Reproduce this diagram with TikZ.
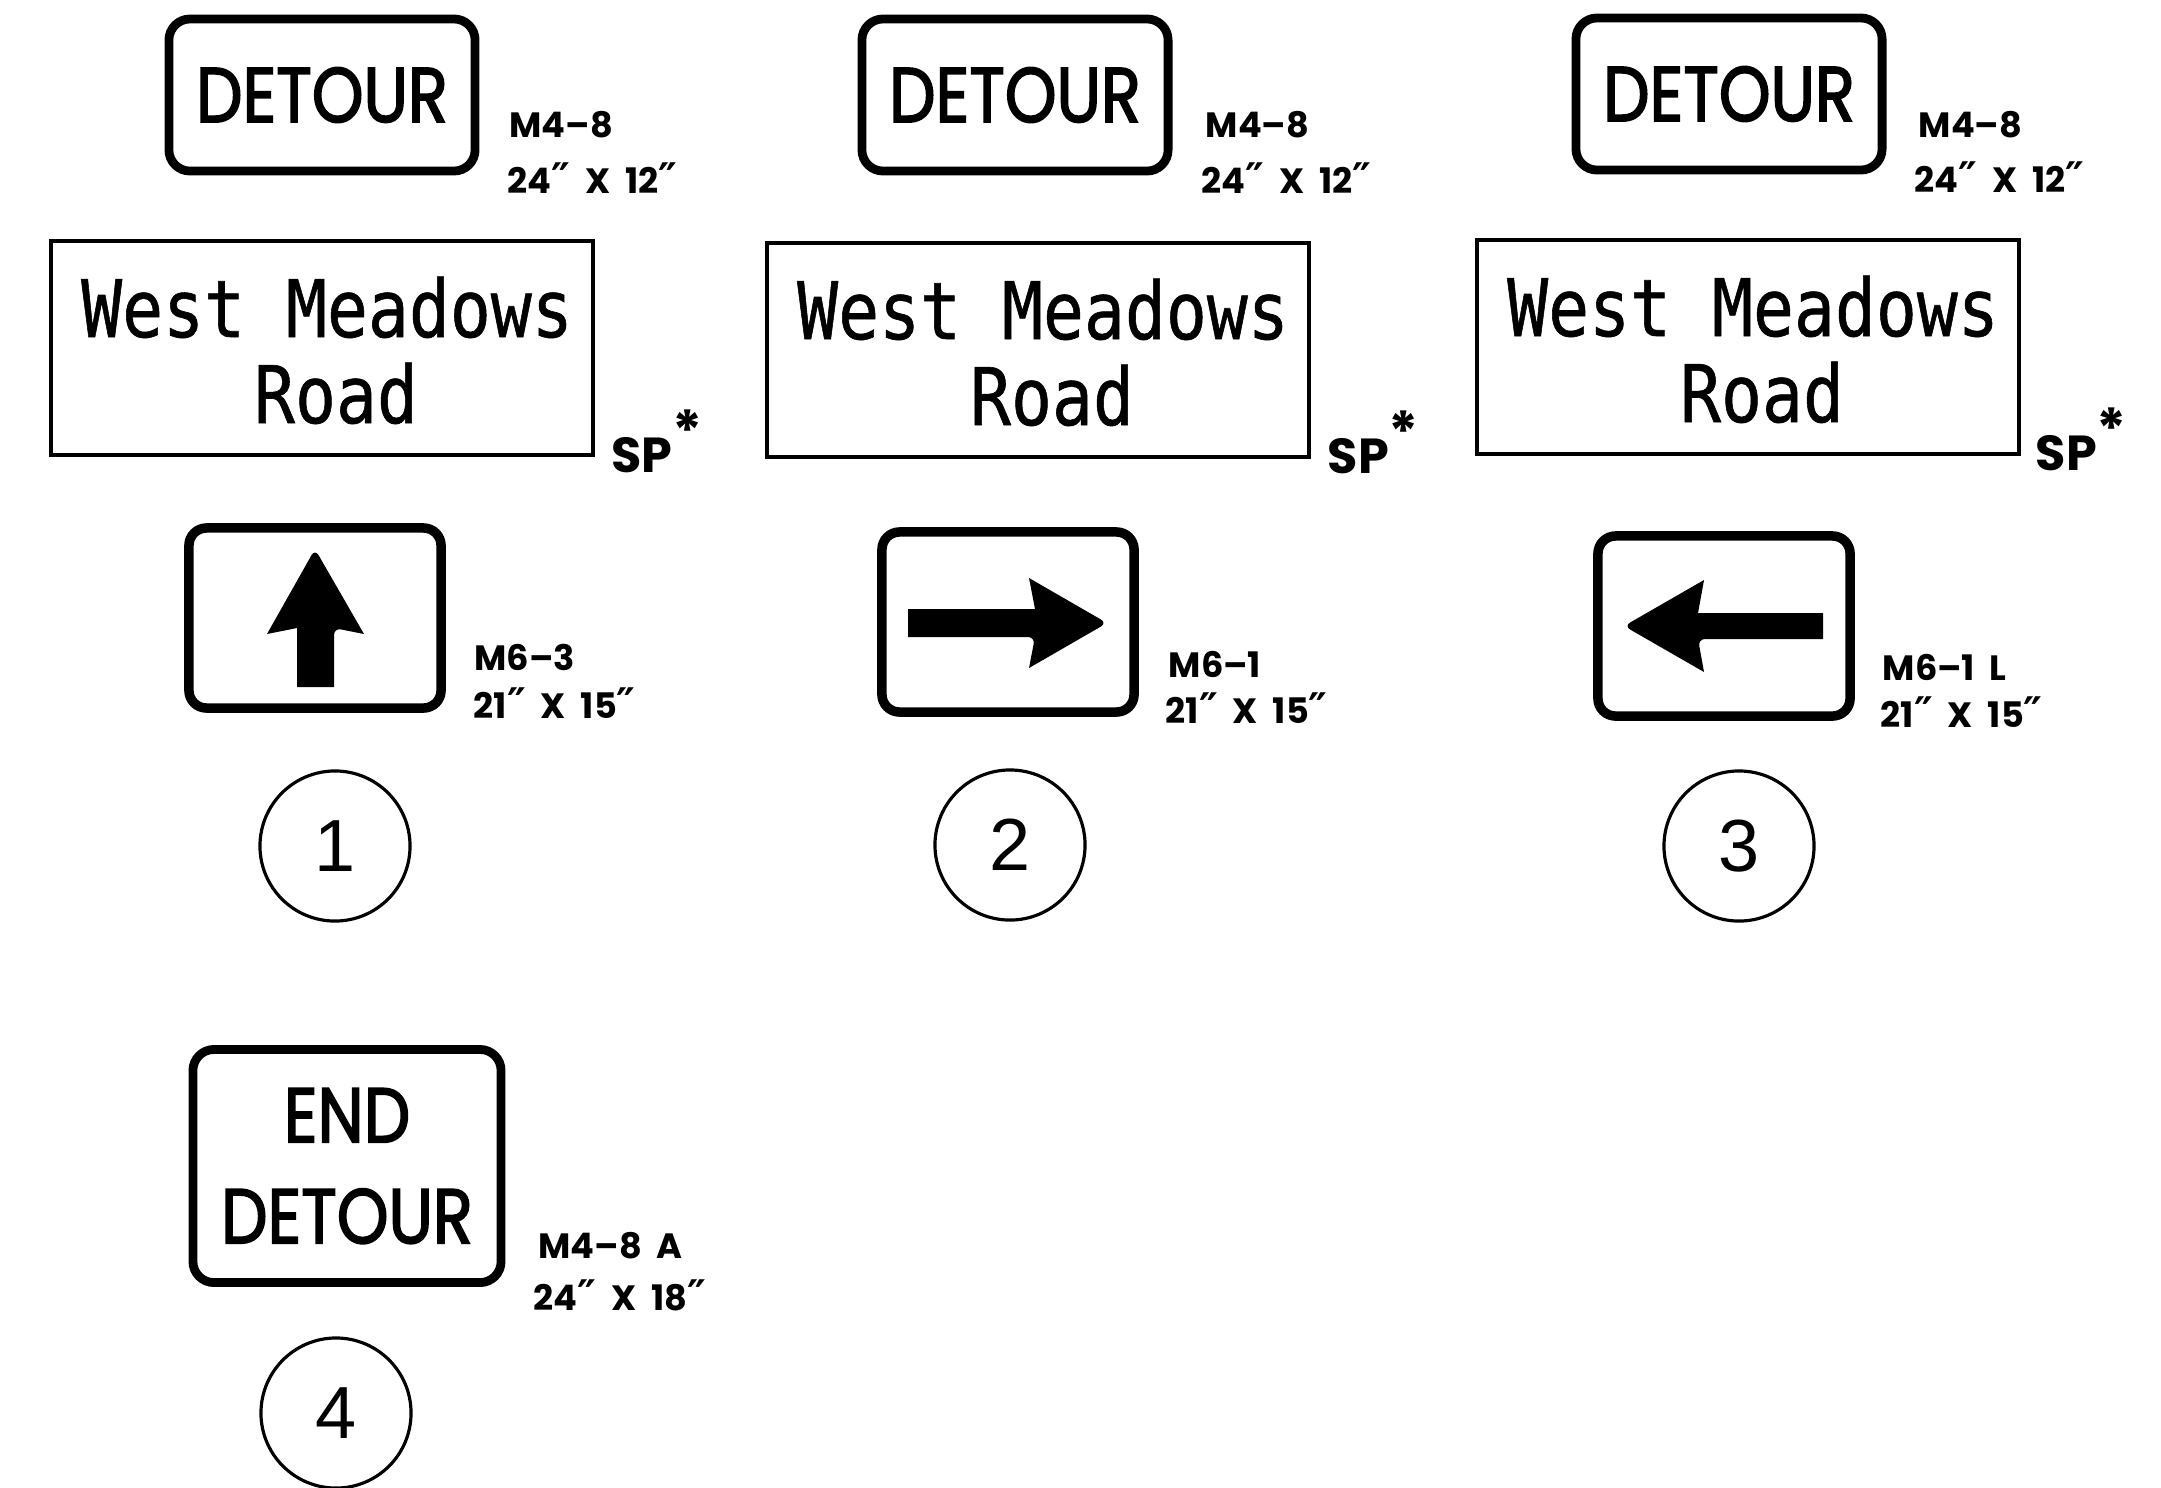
\documentclass[tikz,border=0pt]{standalone}
\usepackage{fontspec}
\usepackage{graphicx}
\usetikzlibrary{shapes,arrows}
\newfontfamily\gothic{Poppins}[FakeBold=2.4]
\newfontfamily\tagfont{Poppins}
\newfontfamily\roadfont{DejaVu Sans Mono}[FakeBold=0.8]
\newfontfamily\numfont{Liberation Sans}
\newfontfamily\symfont{DejaVu Sans}
\newcommand{\inch}{{\symfont\fontsize{12}{12}\selectfont ″}}
\tikzstyle{detour} = [rectangle, draw, line width=2.5pt, rounded corners=6pt,
    minimum width=3.06cm, minimum height=1.52cm, inner sep=0pt,
    font=\gothic\fontsize{22}{28.7}\selectfont, align=center]
\tikzstyle{arrowsign} = [rectangle, draw, line width=2.7pt, rounded corners=5pt,
    minimum width=2.52cm, minimum height=1.80cm, inner sep=0pt]
\tikzstyle{road} = [rectangle, draw, line width=1.1pt,
    minimum width=5.41cm, minimum height=2.14cm, inner sep=0pt]
\tikzstyle{roadtext} = [anchor=base, inner sep=0pt, font=\roadfont\fontsize{21.5}{24}\selectfont]
\tikzstyle{tag} = [anchor=base west, inner sep=0pt, font=\tagfont\bfseries\fontsize{10}{12}\selectfont]
\tikzstyle{sp} = [anchor=base west, inner sep=0pt, font=\tagfont\bfseries\fontsize{14}{16}\selectfont]
\tikzstyle{num} = [circle, draw, line width=0.9pt, minimum size=1.5cm, inner sep=0pt,
    font=\numfont\fontsize{21}{24}\selectfont]

\begin{document}
\begin{tikzpicture}[x=0.01cm, y=-0.01cm]
  \useasboundingbox (0,0) rectangle (2161,1487);
  % DETOUR signs
  \node [detour] (det1) at (322,95) {\scalebox{0.85}[1]{DETOUR}};
  \node [detour] (det2) at (1015,95) {\scalebox{0.85}[1]{DETOUR}};
  \node [detour] (det3) at (1729,94) {\scalebox{0.85}[1]{DETOUR}};
  \node [tag] (det1a) at (509,137) {M4–8};
  \node [tag] (det1b) at (507,193) {24\inch\ \ X\ \ 12\inch};
  \node [tag] (det2a) at (1205,137) {M4–8};
  \node [tag] (det2b) at (1201,193) {24\inch\ \ X\ \ 12\inch};
  \node [tag] (det3a) at (1918,137) {M4–8};
  \node [tag] (det3b) at (1914,192) {24\inch\ \ X\ \ 12\inch};
  % street name signs
  \node [road] (road1) at (322,348) {};
  \node [road] (road2) at (1038,350) {};
  \node [road] (road3) at (1748,347) {};
  \node [roadtext] (road1a) at (327,337) {\scalebox{0.9}[1.05]{West Meadows}};
  \node [roadtext] (road1b) at (336,423) {\scalebox{0.9}[1.05]{Road}};
  \node [roadtext] (road2a) at (1043,339) {\scalebox{0.9}[1.05]{West Meadows}};
  \node [roadtext] (road2b) at (1052,425) {\scalebox{0.9}[1.05]{Road}};
  \node [roadtext] (road3a) at (1753,336) {\scalebox{0.9}[1.05]{West Meadows}};
  \node [roadtext] (road3b) at (1762,422) {\scalebox{0.9}[1.05]{Road}};
  \node [sp] (sp1) at (611,472) {SP\raisebox{0.42em}{\fontsize{16}{16}\selectfont *}};
  \node [sp] (sp2) at (1327,473) {SP\raisebox{0.42em}{\fontsize{16}{16}\selectfont *}};
  \node [sp] (sp3) at (2035,470) {SP\raisebox{0.42em}{\fontsize{16}{16}\selectfont *}};
  % arrow signs
  \node [arrowsign] (arr1) at (315,618) {};
  \node [arrowsign] (arr2) at (1008,622) {};
  \node [arrowsign] (arr3) at (1724,626) {};
  \fill (297,687) -- (297,628) -- (267,634) [rounded corners=2pt] -- (315,549)
    [sharp corners] -- (364,634) [rounded corners=2pt] -- (334,628)
    [sharp corners] -- (334,687) -- cycle;
  \fill (908,609) -- (1035,609) -- (1029,578) [rounded corners=2pt] -- (1107,623)
    [sharp corners] -- (1029,668) [rounded corners=2pt] -- (1035,637)
    [sharp corners] -- (908,637) -- cycle;
  \fill (1823,613) -- (1698,613) -- (1704,580) [rounded corners=2pt] -- (1624,626)
    [sharp corners] -- (1704,672) [rounded corners=2pt] -- (1698,639)
    [sharp corners] -- (1823,639) -- cycle;
  \node [tag] (arr1a) at (474,670) {M6–3};
  \node [tag] (arr1b) at (473,718) {21\inch\ \ X\ \ 15\inch};
  \node [tag] (arr2a) at (1168,677) {M6–1};
  \node [tag] (arr2b) at (1165,723) {21\inch\ \ X\ \ 15\inch};
  \node [tag] (arr3a) at (1882,680) {M6–1\ \ L};
  \node [tag] (arr3b) at (1880,727) {21\inch\ \ X\ \ 15\inch};
  % step numbers
  \node [num] (n1) at (335,846) {1};
  \node [num] (n2) at (1010,845) {2};
  \node [num] (n3) at (1739,846) {3};
  % END DETOUR sign
  \node [detour, minimum width=3.08cm, minimum height=2.33cm] (enddet) at (347,1166)
    {\scalebox{0.85}[1]{END}\\\scalebox{0.85}[1]{DETOUR}};
  \node [tag] (enda) at (538,1258) {M4–8\ \ A};
  \node [tag] (endb) at (533,1310) {24\inch\ \ X\ \ 18\inch};
  \node [num] (n4) at (336,1413) {4};
\end{tikzpicture}
\end{document}
